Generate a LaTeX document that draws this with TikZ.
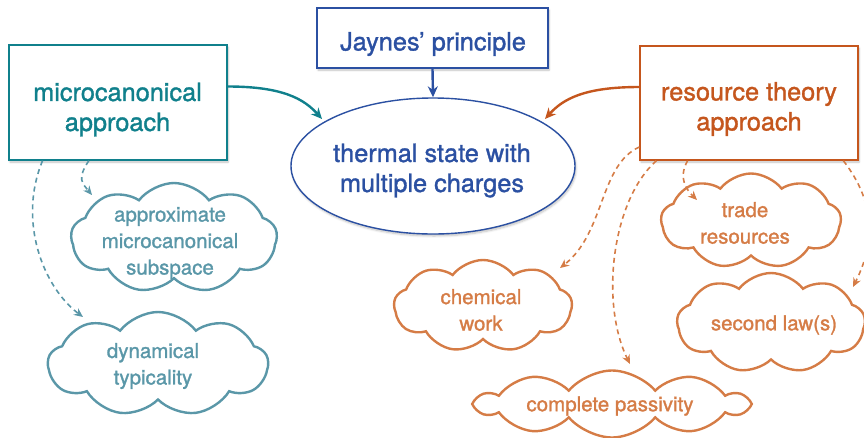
\documentclass[tikz,border=0pt]{standalone}
\usepackage{fontspec}
\setmainfont{TeX Gyre Heros}[RawFeature={embolden=1.3}]
\usetikzlibrary{shapes.geometric,shapes.symbols,arrows.meta,calc,shadows.blur}
\definecolor{tealbox}{HTML}{10808C}
\definecolor{tealcloud}{HTML}{5A97A8}
\definecolor{bluec}{HTML}{2B50A2}
\definecolor{orbox}{HTML}{C5561D}
\definecolor{orcloud}{HTML}{D57C46}
\tikzset{
  bigbox/.style={draw, line width=1.4pt, fill=white, inner sep=0pt,
    blur shadow={shadow blur steps=6, shadow xshift=1pt, shadow yshift=-2pt, shadow opacity=25}},
  bigtext/.style={font=\fontsize{25.3}{30}\selectfont, align=center, inner sep=0pt},
  cloudbox/.style={cloud, draw, line width=2.4pt, cloud ignores aspect, inner sep=0pt},
  cloudtext/.style={font=\fontsize{20.5}{26.5}\selectfont, align=center, inner sep=0pt},
  solidarrow/.style={line width=2.4pt, -{Stealth[length=11pt,width=10pt]}},
  dasharrow/.style={line width=1.6pt, dash pattern=on 5pt off 4pt, -{Stealth[length=9pt,width=8pt]}}
}
\begin{document}
\begin{tikzpicture}[x=1pt,y=-1pt]
\useasboundingbox (0,0) rectangle (864,437);
% main boxes
\node[bigbox, draw=tealbox, minimum width=218pt, minimum height=115pt] (micro) at (118,102.5) {};
\node[bigtext, text=tealbox] (microlbl) at (117.5,109.5) {microcanonical\\approach};
\node[bigbox, draw=bluec, minimum width=231pt, minimum height=60pt] (jaynes) at (432.5,38) {};
\node[bigtext, text=bluec] (jayneslbl) at (433,44) {Jaynes’ principle};
\node[bigbox, draw=orbox, minimum width=218pt, minimum height=114pt] (resource) at (749,103) {};
\node[bigtext, text=orbox] (resourcelbl) at (749,109) {resource theory\\approach};
\node[ellipse, draw=bluec, line width=1.4pt, fill=white, minimum width=284pt, minimum height=136pt, inner sep=0pt,
  blur shadow={shadow blur steps=6, shadow xshift=1pt, shadow yshift=-2pt, shadow opacity=25}] (therm) at (433,166) {};
\node[bigtext, text=bluec] (thermlbl) at (432,170.5) {thermal state with\\multiple charges};
% clouds
\node[cloudbox, draw=tealcloud, cloud puffs=9, cloud puff arc=105, minimum width=206pt, minimum height=110pt] (approx) at (174,238) {};
\node[cloudtext, text=tealcloud] (approxlbl) at (170,243) {approximate\\microcanonical\\subspace};
\node[cloudbox, draw=tealcloud, cloud puffs=9, cloud puff arc=105, minimum width=220pt, minimum height=104pt] (dyn) at (158,364) {};
\node[cloudtext, text=tealcloud] (dynlbl) at (153,366) {dynamical\\typicality};
\node[cloudbox, draw=orcloud, cloud puffs=9, cloud puff arc=105, minimum width=180pt, minimum height=95pt] (trade) at (751,221) {};
\node[cloudtext, text=orcloud] (tradelbl) at (745,223) {trade\\resources};
\node[cloudbox, draw=orcloud, cloud puffs=9, cloud puff arc=105, minimum width=188pt, minimum height=100pt] (second) at (771,323) {};
\node[cloudtext, text=orcloud] (secondlbl) at (774,325) {second law(s)};
\node[cloudbox, draw=orcloud, cloud puffs=9, cloud puff arc=105, minimum width=178pt, minimum height=92pt] (chem) at (483,306) {};
\node[cloudtext, text=orcloud] (chemlbl) at (481,310) {chemical\\work};
\node[cloudbox, draw=orcloud, cloud puffs=10, cloud puff arc=100, minimum width=270pt, minimum height=67pt] (pass) at (612,404) {};
\node[cloudtext, text=orcloud] (passlbl) at (610,406) {complete passivity};
% solid arrows
\draw[solidarrow, tealbox] ([yshift=16pt]micro.east) .. controls +(55,0) and +(-18,-20) .. ($(therm.center)+(-111,-47)$);
\draw[solidarrow, orbox] ([yshift=16pt]resource.west) .. controls +(-55,0) and +(18,-20) .. ($(therm.center)+(112,-47)$);
\draw[solidarrow, bluec] (jaynes.south) -- (therm.north);
% dashed arrows teal
\draw[dasharrow, tealcloud] ($(micro.south west)!0.367!(micro.south east)$) .. controls +(-12,18) and +(-10,-12) .. ($(approx.center)+(-82,-43)$);
\draw[dasharrow, tealcloud] ($(micro.south west)!0.156!(micro.south east)$) .. controls +(-25,60) and +(-40,-30) .. ($(dyn.center)+(-75,-47)$);
% dashed arrows orange
\draw[dasharrow, orcloud] ([yshift=-44pt]resource.west) .. controls +(-40,18) and +(45,-35) .. ($(chem.center)+(77,-38)$);
\draw[dasharrow, orcloud] ($(resource.south west)!0.078!(resource.south east)$) .. controls +(-45,40) and +(-30,-60) .. ($(pass.center)+(18,-40)$);
\draw[dasharrow, orcloud] ($(resource.south west)!0.22!(resource.south east)$) .. controls +(-10,18) and +(-10,-10) .. ($(trade.center)+(-54,-21)$);
\draw[dasharrow, orcloud] ($(resource.south west)!0.93!(resource.south east)$) .. controls +(35,45) and +(20,-40) .. ($(second.center)+(82,-36)$);
\end{tikzpicture}
\end{document}
